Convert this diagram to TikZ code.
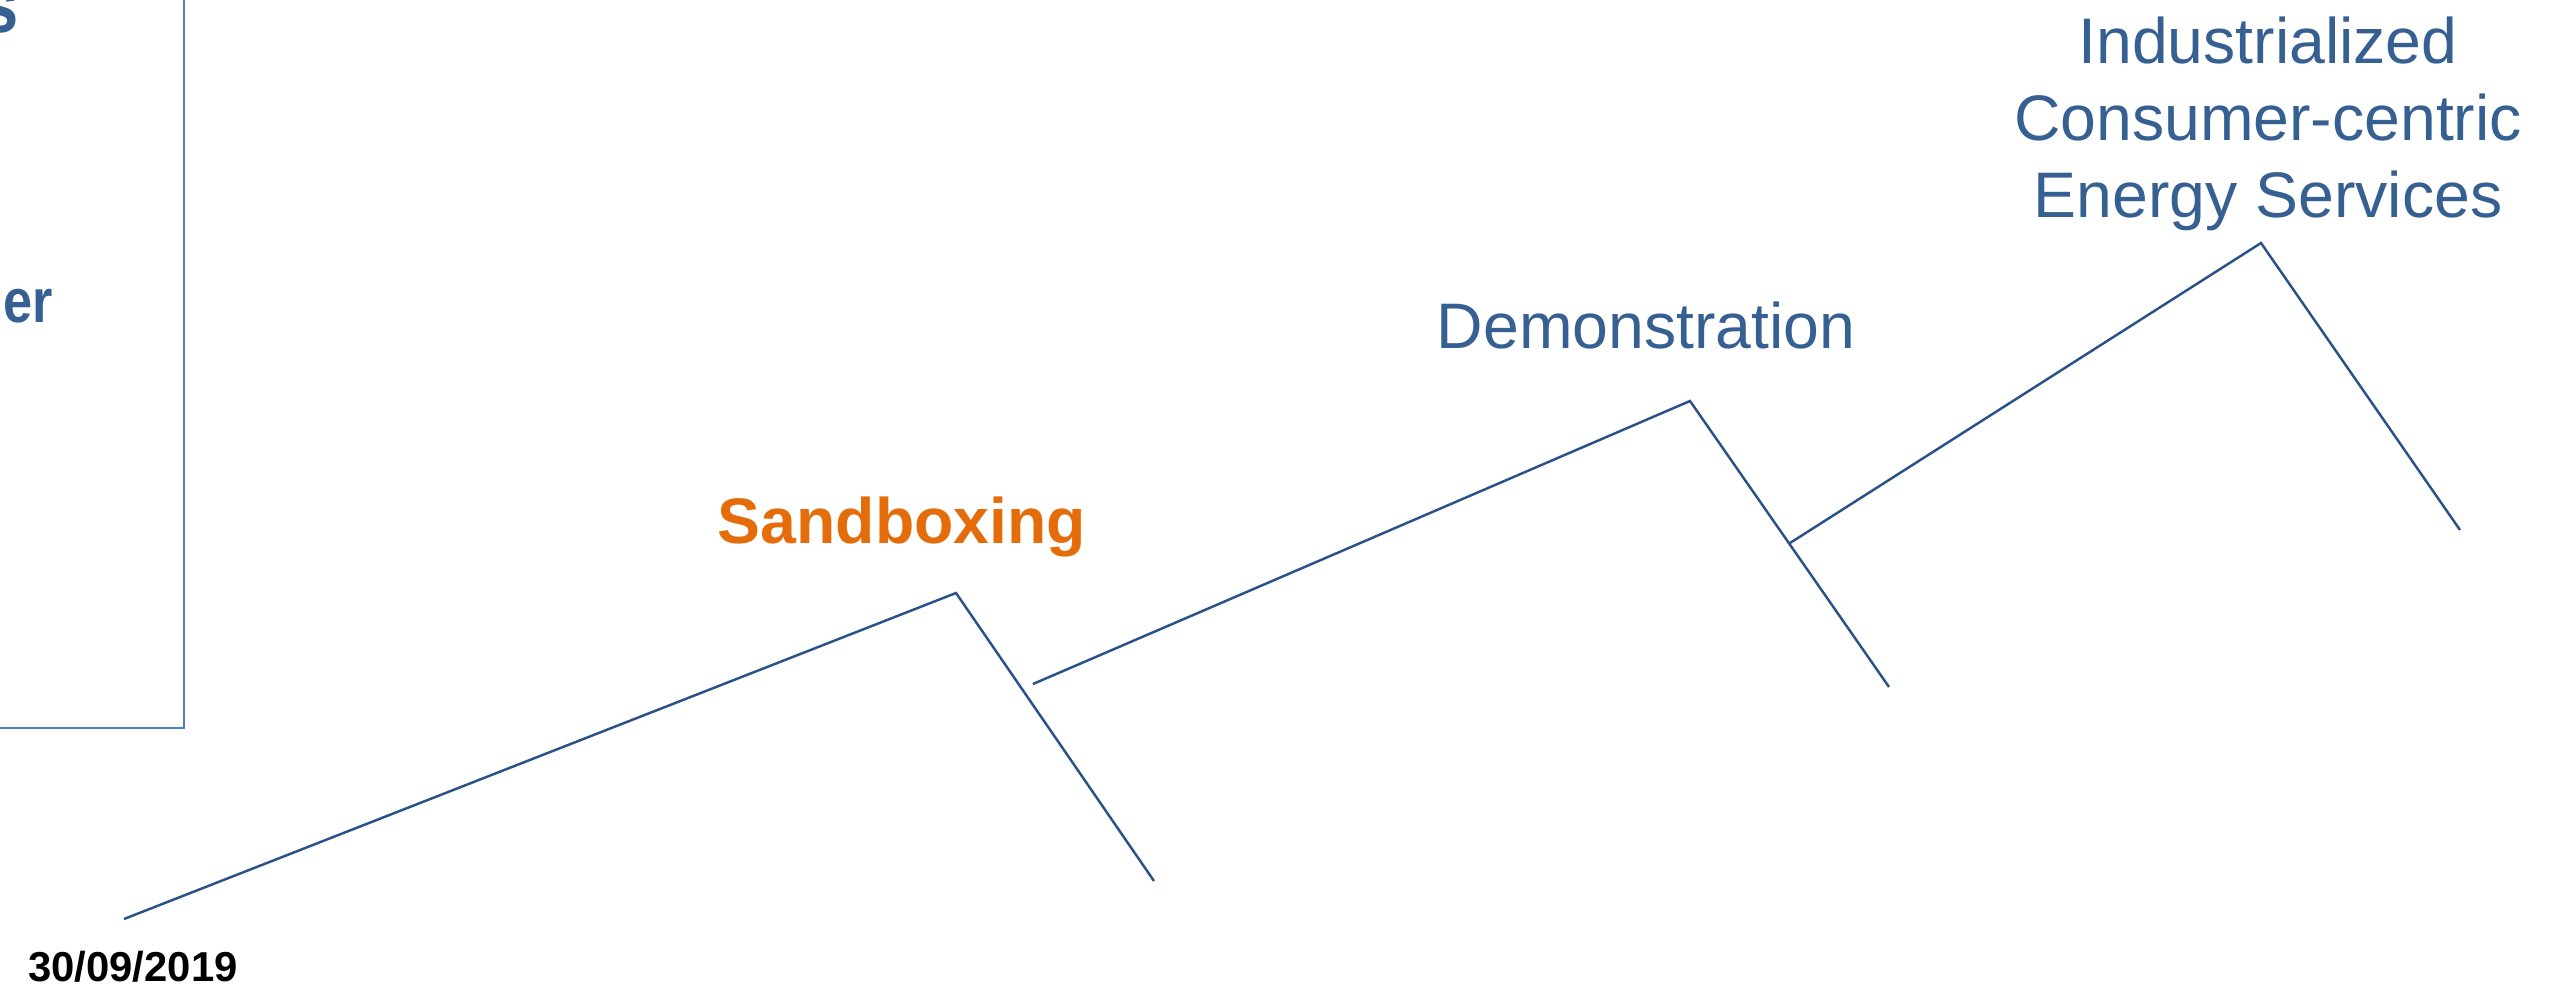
\documentclass[tikz,border=0pt]{standalone}
\usepackage{fontspec}
\setmainfont{Liberation Sans}
\newfontfamily\narrowsans[FakeStretch=0.845]{Liberation Sans}
\usepackage{xcolor}
\usetikzlibrary{positioning}
\definecolor{stageblue}{HTML}{376092}
\definecolor{pathblue}{HTML}{2A5289}
\definecolor{frameblue}{HTML}{4F81BD}
\definecolor{sandorange}{HTML}{E46C0A}

\begin{document}
\begin{tikzpicture}[x=0.01cm, y=-0.01cm,
    stage/.style={inner sep=0pt, text=stageblue, font=\fontsize{18.3}{21.9}\selectfont},
    ramp/.style={pathblue, line width=0.7pt, line join=miter}]
    \useasboundingbox (0,0) rectangle (2563,985);

    % Frame cut off at the left
    \draw[frameblue, line width=0.6pt] (184,-20) -- (184,728) -- (-20,728);
    \node[stage, font=\narrowsans\bfseries\fontsize{22.5}{27}\selectfont, anchor=base east] (title) at (19,33) {s};
    \node[stage, font=\narrowsans\bfseries\fontsize{17.6}{21}\selectfont, anchor=base east] (side) at (54,322) {er};

    % Steps
    \draw[ramp] (124,919) -- (956,593) -- (1154,881);
    \draw[ramp] (1033,684) -- (1690,401) -- (1889,687);
    \draw[ramp] (1790,543) -- (2261,243) -- (2460,530);

    % Stage labels
    \node[stage, text=sandorange, font=\bfseries\fontsize{18.3}{21.9}\selectfont, anchor=base] (sand) at (902,543) {Sandboxing};
    \node[stage, anchor=base] (demo) at (1646,348) {Demonstration};
    \node[stage, align=center, anchor=north] (indus) at (2268,16) {Industrialized\\Consumer-centric\\Energy Services};

    % Date
    \node[inner sep=0pt, font=\bfseries\fontsize{11.9}{14}\selectfont, anchor=base] (date) at (133,981) {30/09/2019};
\end{tikzpicture}
\end{document}
